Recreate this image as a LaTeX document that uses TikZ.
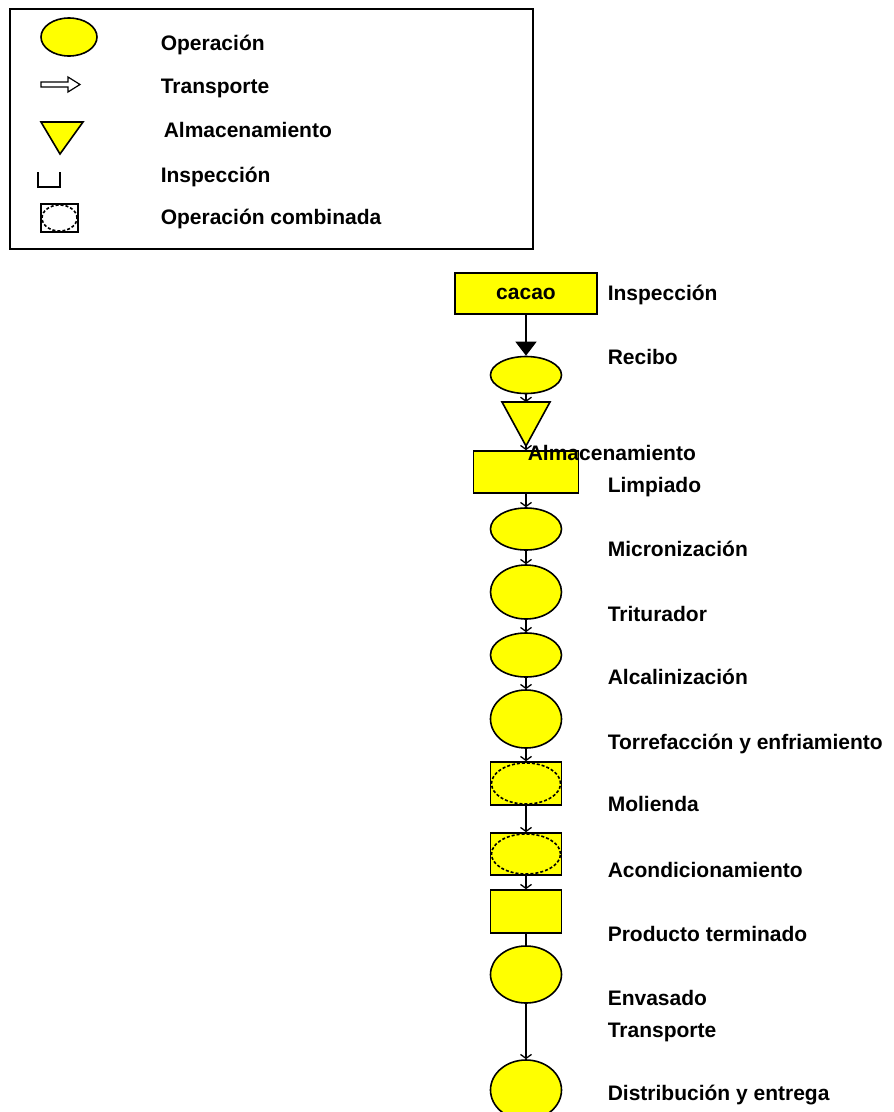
\documentclass[tikz,border=0pt]{standalone}
\usepackage{fontspec}
\setmainfont{Liberation Sans}
\usepackage{tikz}
\usetikzlibrary{shapes,arrows.meta}

\definecolor{opyellow}{RGB}{255,255,0}

\begin{document}
\begin{tikzpicture}[x=1pt,y=-1pt,line width=1.6pt,
  font=\fontsize{21}{25}\selectfont\bfseries,
  op/.style={ellipse,draw,fill=opyellow,inner sep=0pt,minimum width=71pt},
  box/.style={rectangle,draw,fill=opyellow,inner sep=0pt},
  combo/.style 2 args={rectangle,draw,fill=opyellow,inner sep=0pt,
    minimum width=#1,minimum height=#2,
    path picture={\draw[densely dashed] (path picture bounding box.center)
      ellipse [x radius=#1/2-1pt, y radius=#2/2-1pt];}},
  lbl/.style={anchor=base west,inner sep=0pt},
  flow/.style={-{Straight Barb[length=4pt,width=11pt]},line width=1.3pt}]
\useasboundingbox (0,0) rectangle (894,1112);

% legend
\draw (10,9) rectangle (533,249);
\node[op,minimum width=56pt,minimum height=38pt] (lop) at (69,37) {};
\draw[fill=white,line width=1.2pt] (41,82) -- (68,82) -- (68,77) -- (80,84.5)
  -- (68,92) -- (68,87) -- (41,87) -- cycle;
\draw[fill=opyellow] (41,122) -- (83,122) -- (60,154) -- cycle;
\draw[line width=1.2pt] (38,172) -- (38,187) -- (60,187) -- (60,172);
\node[combo={37pt}{28pt},fill=white] (lcomb) at (59.5,218) {};
\node[lbl] (tlop) at (160,50) {Operación};
\node[lbl] (tltr) at (160,93) {Transporte};
\node[lbl] (tlal) at (163,137) {Almacenamiento};
\node[lbl] (tlin) at (160,182) {Inspección};
\node[lbl] (tlco) at (160,224) {Operación combinada};

% process chain
\node[box,minimum width=142pt,minimum height=41pt] (cacao) at (526,293.5) {cacao};
\node[op,minimum height=37pt] (rec) at (526,375) {};
\coordinate (almtop) at (526,402);
\coordinate (almapex) at (526,446);
\draw[fill=opyellow] (502,402) -- (550,402) -- (almapex) -- cycle;
\node[box,minimum width=105pt,minimum height=42pt] (limp) at (526,472) {};
\node[op,minimum height=42pt] (mic) at (526,529) {};
\node[op,minimum height=54pt] (tri) at (526,592) {};
\node[op,minimum height=44pt] (alc) at (526,655) {};
\node[op,minimum height=58pt] (tor) at (526,719) {};
\node[combo={71pt}{43pt}] (mol) at (526,783.5) {};
\node[combo={71pt}{42pt}] (aco) at (526,854) {};
\node[box,minimum width=71pt,minimum height=43pt] (prod) at (526,911.5) {};
\node[op,minimum height=57pt] (env) at (526,974.5) {};
\node[op,minimum height=60pt] (dis) at (526,1090) {};

\draw[-{Triangle[length=14pt,width=21pt]},line width=1.3pt] (cacao.south) -- (rec.north);
\draw[flow] (rec.south) -- (almtop);
\draw[flow] (almapex) -- (limp.north);
\draw[flow] (limp.south) -- (mic.north);
\draw[flow] (mic.south) -- (tri.north);
\draw[flow] (tri.south) -- (alc.north);
\draw[flow] (alc.south) -- (tor.north);
\draw[flow] (tor.south) -- (mol.north);
\draw[flow] (mol.south) -- (aco.north);
\draw[flow] (aco.south) -- (prod.north);
\draw[line width=1.3pt] (prod.south) -- (env.north);
\draw[flow] (env.south) -- (dis.north);

% labels
\node[lbl] (tins) at (607,300) {Inspección};
\node[lbl] (trec) at (607,364) {Recibo};
\node[lbl] (talm) at (527,460) {Almacenamiento};
\node[lbl] (tlim) at (607,492) {Limpiado};
\node[lbl] (tmic) at (607,556) {Micronización};
\node[lbl] (ttri) at (607,621) {Triturador};
\node[lbl] (talc) at (607,684) {Alcalinización};
\node[lbl] (ttor) at (607,749) {Torrefacción y enfriamiento};
\node[lbl] (tmol) at (607,811) {Molienda};
\node[lbl] (taco) at (607,877) {Acondicionamiento};
\node[lbl] (tpro) at (607,941) {Producto terminado};
\node[lbl] (tenv) at (607,1005) {Envasado};
\node[lbl] (ttra) at (607,1037) {Transporte};
\node[lbl] (tdis) at (607,1100) {Distribución y entrega};

\end{tikzpicture}
\end{document}
